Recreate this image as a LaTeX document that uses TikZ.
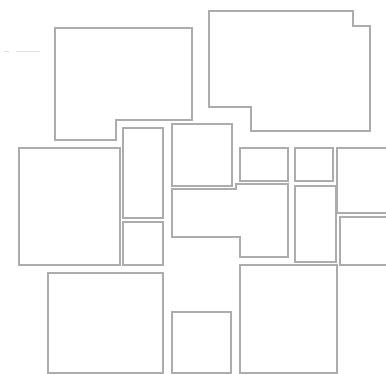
\documentclass[tikz,border=0pt]{standalone}
\usepackage{tikz}
\usepackage{xcolor}
\begin{document}
\begin{tikzpicture}[x=1pt,y=-1pt,room/.style={draw=gray!65, line width=2pt, line join=miter}]
\useasboundingbox (0,0) rectangle (386,374);
\draw[gray!25, line width=0.7pt] (4,51) -- (9,51);
\draw[gray!25, line width=0.7pt] (16,51) -- (40,51);
% obere Reihe
\draw[room] (55,28) -- (192,28) -- (192,120) -- (116,120) -- (116,140) -- (55,140) -- cycle;
\draw[room] (209,11) -- (353,11) -- (353,26) -- (370,26) -- (370,131) -- (251,131) -- (251,107) -- (209,107) -- cycle;
% mittlere Reihe
\draw[room] (19,148) rectangle (120,265);
\draw[room] (123,128) rectangle (163,218);
\draw[room] (123,222) rectangle (163,265);
\draw[room] (172,124) rectangle (232,186);
\draw[room] (172,189) -- (236,189) -- (236,184) -- (288,184) -- (288,257) -- (240,257) -- (240,237) -- (172,237) -- cycle;
\draw[room] (240,148) rectangle (288,181);
\draw[room] (295,148) rectangle (333,181);
\draw[room] (295,186) rectangle (336,262);
\draw[room] (337,148) rectangle (392,213);
\draw[room] (340,217) rectangle (392,265);
% untere Reihe
\draw[room] (48,273) rectangle (163,373);
\draw[room] (172,312) rectangle (231,373);
\draw[room] (240,265) rectangle (337,373);
\end{tikzpicture}
\end{document}
